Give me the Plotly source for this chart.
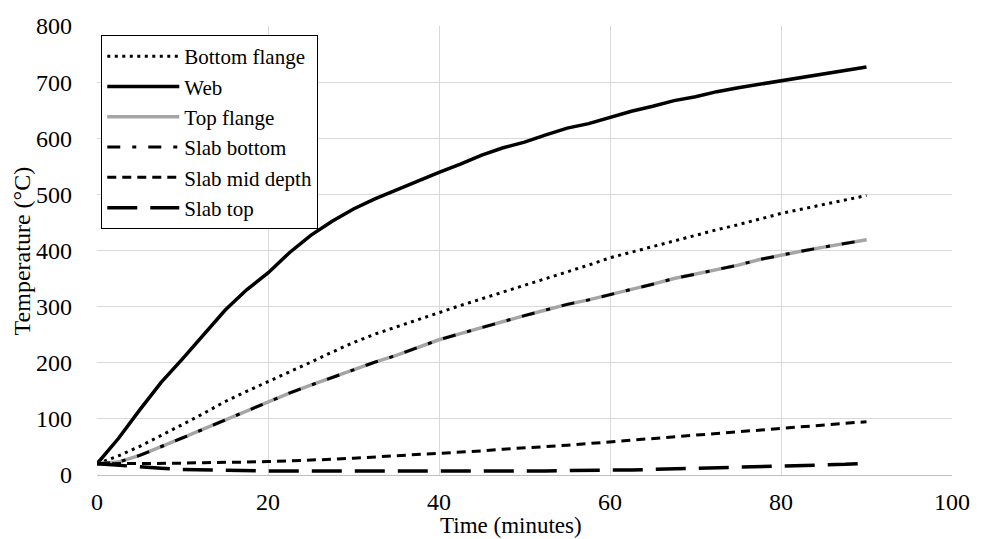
import plotly.graph_objects as go

time_min = [0, 2.5, 5, 7.5, 10, 12.5, 15, 17.5, 20, 22.5, 25, 27.5, 30, 32.5, 35, 37.5,
            40, 42.5, 45, 47.5, 50, 52.5, 55, 57.5, 60, 62.5, 65, 67.5, 70, 72.5, 75,
            77.5, 80, 82.5, 85, 87.5, 90]

bottom_flange = [20, 34, 51, 70, 90, 110, 131, 149, 166, 184, 201, 219, 236, 251, 264, 277,
                 289, 302, 314, 326, 338, 349, 361, 374, 387, 397, 407, 418, 427, 437, 446,
                 456, 466, 474, 482, 490, 498]
web = [20, 65, 116, 165, 207, 250, 294, 330, 360, 396, 427, 452, 474, 492, 508, 524,
       539, 554, 570, 583, 593, 606, 618, 626, 637, 648, 657, 667, 674, 683, 690,
       696, 703, 708, 714, 720, 727]
top_flange = [20, 23, 35, 50, 66, 82, 98, 115, 130, 146, 160, 174, 188, 201, 213, 227,
              241, 252, 263, 274, 284, 294, 304, 312, 321, 331, 340, 350, 358, 366, 374,
              384, 392, 399, 406, 413, 419]
slab_bottom = [20, 23, 35, 50, 66, 82, 98, 115, 130, 146, 160, 174, 188, 201, 213, 227,
               241, 252, 263, 274, 284, 294, 304, 312, 321, 331, 340, 350, 358, 366, 374,
               384, 392, 399, 406, 413, 419]
slab_mid = [20, 20, 20, 21, 21, 22, 22, 23, 24, 25, 27, 28, 30, 32, 34, 37,
            39, 41, 43, 46, 48, 51, 53, 56, 59, 62, 64, 67, 70, 73, 76,
            79, 82, 85, 88, 91, 95]
slab_top = [20, 17, 14, 12, 10, 9, 8, 8, 7, 7, 7, 7, 6, 6, 6, 6,
            6, 6, 6, 6, 7, 7, 8, 8, 9, 9, 10, 11, 12, 12, 13,
            15, 16, 17, 18, 19, 21]

series = [
    ("Bottom flange", bottom_flange, "black", 3, "3px,4.5px"),
    ("Web", web, "black", 3.5, "solid"),
    ("Top flange", top_flange, "#A5A5A5", 3.5, "solid"),
    ("Slab bottom", slab_bottom, "black", 3, "13px,12px,4px,12px"),
    ("Slab mid depth", slab_mid, "black", 3, "9px,6px"),
    ("Slab top", slab_top, "black", 3.5, "30px,13px"),
]

fig = go.Figure()
for name, vals, color, width, dash in series:
    fig.add_trace(go.Scatter(x=time_min, y=vals, mode="lines", name=name,
                             line=dict(color=color, width=width, dash=dash)))

font_family = "Times New Roman"
fig.update_layout(
    width=982, height=539,
    margin=dict(l=97, r=20, t=26, b=64),
    paper_bgcolor="white", plot_bgcolor="white",
    font=dict(family=font_family, size=24, color="black"),
    showlegend=True,
    legend=dict(x=0.005, y=0.98, xanchor="left", yanchor="top",
                bgcolor="white", bordercolor="black", borderwidth=1,
                font=dict(family=font_family, size=21, color="black"),
                itemwidth=72, tracegroupgap=0),
    xaxis=dict(range=[0, 100], dtick=20, tick0=0, showgrid=True, gridcolor="#D9D9D9",
               gridwidth=1, zeroline=False, showline=True, linecolor="#BFBFBF",
               mirror=False, ticks="", ticklabelstandoff=5,
               tickfont=dict(family=font_family, size=24, color="black")),
    yaxis=dict(range=[0, 800], dtick=100, tick0=0, showgrid=True, gridcolor="#D9D9D9",
               gridwidth=1, zeroline=False, showline=False, ticks="",
               ticklabelstandoff=24,
               tickfont=dict(family=font_family, size=24, color="black")),
    annotations=[
        dict(text="Time (minutes)", xref="paper", yref="paper", x=(516 - 97) / 865,
             y=-(525 - 475) / 449, xanchor="center", yanchor="middle", showarrow=False,
             font=dict(family=font_family, size=23, color="black")),
        dict(text="Temperature (°C)", xref="paper", yref="paper", x=-(97 - 21) / 865,
             y=0.5, xanchor="center", yanchor="middle", textangle=-90, showarrow=False,
             font=dict(family=font_family, size=24, color="black")),
    ],
)

fig.write_html("out.html")
